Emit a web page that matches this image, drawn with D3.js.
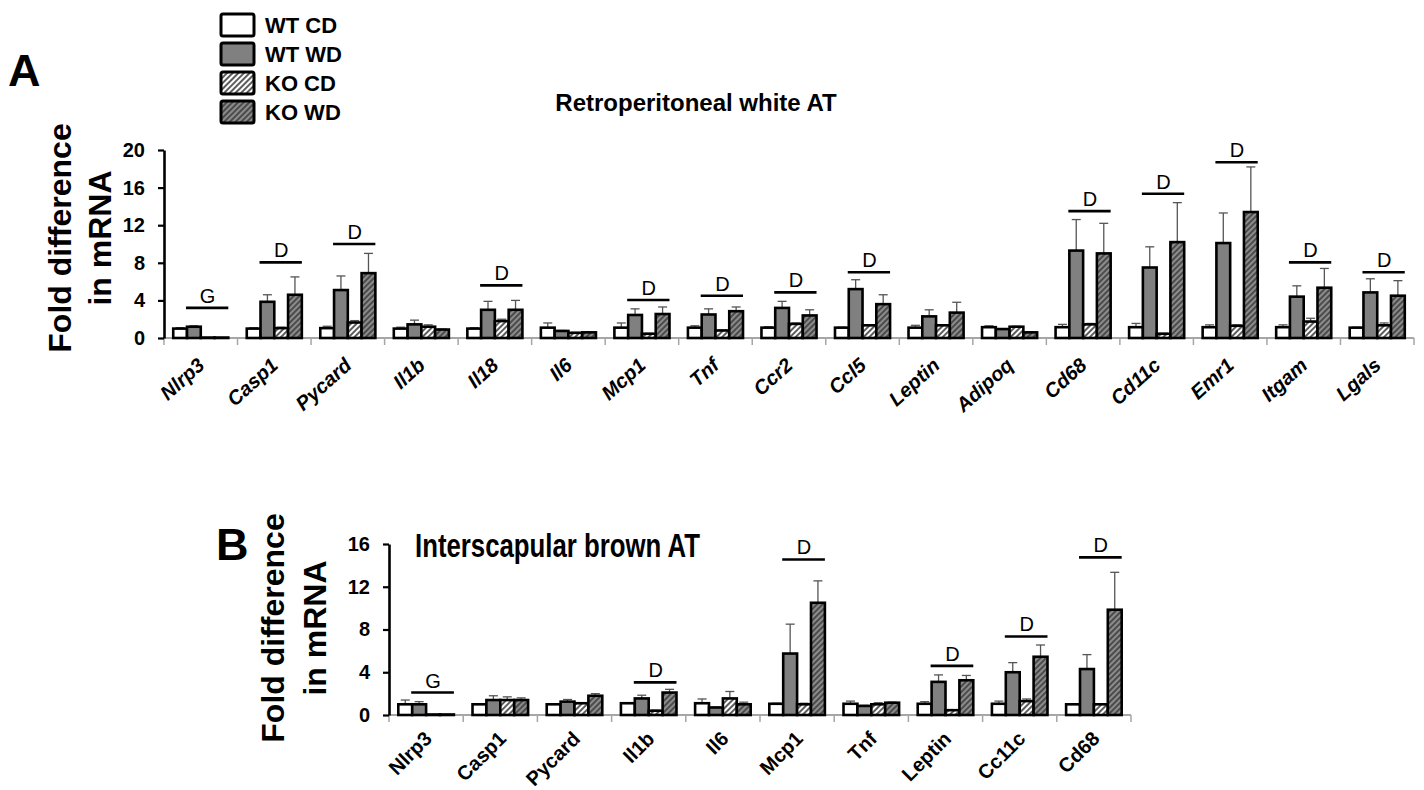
<!DOCTYPE html>
<html>
<head>
<meta charset="utf-8">
<script src="https://cdn.jsdelivr.net/npm/d3@7"></script>
<style>
  body { margin: 0; background: #fff; }
  text { font-family: "Liberation Sans", Arial, sans-serif; }
</style>
</head>
<body>
<div id="chart"></div>
<script>
var groups = ['WT CD', 'WT WD', 'KO CD', 'KO WD']

// panel A: retroperitoneal white AT
var genesA = ['Nlrp3','Casp1','Pycard','Il1b','Il18','Il6','Mcp1','Tnf','Ccr2','Ccl5','Leptin','Adipoq','Cd68','Cd11c','Emr1','Itgam','Lgals']
var wtcdA  = [1.0,1.0,1.05,1.0,1.0,1.1,1.1,1.1,1.1,1.1,1.1,1.15,1.15,1.15,1.15,1.15,1.1]
var wtcdAe = [0.1,0.1,0.2,0.15,0.1,0.5,0.5,0.2,0.1,0.05,0.25,0.15,0.3,0.4,0.25,0.25,0.05]
var wtwdA  = [1.2,3.85,5.1,1.45,3.0,0.75,2.45,2.5,3.2,5.2,2.3,0.95,9.3,7.5,10.1,4.4,4.85]
var wtwdAe = [0.1,0.75,1.5,0.45,0.9,0.05,0.65,0.6,0.7,1.0,0.7,0.05,3.3,2.2,3.2,1.15,1.45]
var kocdA  = [0.05,1.05,1.65,1.2,1.8,0.55,0.45,0.8,1.5,1.35,1.35,1.2,1.45,0.45,1.3,1.75,1.35]
var kocdAe = [0,0.1,0.2,0.2,0.2,0.05,0.05,0.05,0.1,0.05,0.05,0.05,0.1,0.05,0.1,0.35,0.25]
var kowdA  = [0.05,4.6,6.9,0.9,3.0,0.6,2.55,2.85,2.4,3.6,2.7,0.6,9.0,10.2,13.4,5.35,4.5]
var kowdAe = [0,1.9,2.1,0.05,1.0,0.05,0.75,0.45,0.6,1.0,1.1,0.05,3.2,4.2,4.8,2.05,1.6]
var sigA   = ['G','D','D','','D','','D','D','D','D','','','D','D','D','D','D']
var sigAy  = [3.2,8.05,10.0,0,5.6,0,4.05,4.5,4.85,7.0,0,0,13.5,15.35,18.7,8.05,7.0]
var ticksA = [0,4,8,12,16,20]

// panel B: interscapular brown AT
var genesB = ['Nlrp3','Casp1','Pycard','Il1b','Il6','Mcp1','Tnf','Leptin','Cc11c','Cd68']
var wtcdB  = [1.0,1.0,1.0,1.1,1.1,1.05,1.05,1.05,1.05,1.0]
var wtcdBe = [0.4,0.05,0.05,0.05,0.4,0.05,0.25,0.2,0.25,0.05]
var wtwdB  = [1.0,1.4,1.25,1.55,0.7,5.75,0.85,3.1,4.0,4.3]
var wtwdBe = [0.25,0.4,0.2,0.3,0.05,2.75,0.05,0.65,0.9,1.35]
var kocdB  = [0.05,1.4,1.1,0.4,1.55,1.0,1.0,0.45,1.3,1.0]
var kocdBe = [0,0.3,0.05,0.05,0.65,0.1,0.15,0.05,0.2,0.05]
var kowdB  = [0.05,1.4,1.8,2.1,1.0,10.5,1.15,3.25,5.45,9.85]
var kowdBe = [0,0.2,0.2,0.3,0.2,2.05,0.05,0.45,1.1,3.5]
var sigB   = ['G','','','D','','D','','D','D','D']
var sigBy  = [2.1,0,0,3.05,0,14.55,0,4.6,7.35,14.75]
var ticksB = [0,4,8,12,16]

var svg = d3.select('#chart').append('svg')
  .attr('width', 1424)
  .attr('height', 790)

svg.append('rect').attr('width', 1424).attr('height', 790).attr('fill', '#fff')

var defs = svg.append('defs')
function hatch(id, bg, ink) {
  var p = defs.append('pattern')
    .attr('id', id)
    .attr('patternUnits', 'userSpaceOnUse')
    .attr('width', 4).attr('height', 4)
    .attr('patternTransform', 'rotate(45)')
  p.append('rect').attr('width', 4).attr('height', 4).attr('fill', bg)
  p.append('line').attr('x1', 1).attr('y1', 0).attr('x2', 1).attr('y2', 4)
    .attr('stroke', ink).attr('stroke-width', 1.6)
}
hatch('kocd', '#fff', '#333')
hatch('kowd', '#8c8c8c', '#3a3a3a')

var fills = {'WT CD': '#fff', 'WT WD': '#808080', 'KO CD': 'url(#kocd)', 'KO WD': 'url(#kowd)'}

function panel(p) {
  var x = d3.scaleBand().domain(p.genes).range(p.xr)
  var xs = d3.scaleBand().domain(groups).range([0, x.bandwidth()]).paddingOuter(0.67)
  var y = d3.scaleLinear().domain(p.yd).range(p.yr)
  var g = svg.append('g')
  var y0 = y(0)

  var rows = []
  p.genes.forEach(function (gene, i) {
    groups.forEach(function (grp, j) {
      rows.push({gene: gene, grp: grp, v: p.vals[j][i], e: p.errs[j][i]})
    })
  })

  // x axis: gray line, ticks at category boundaries
  g.append('line')
    .attr('x1', p.xr[0]).attr('x2', p.xr[1])
    .attr('y1', y0).attr('y2', y0)
    .attr('stroke', '#a6a6a6').attr('stroke-width', 2)
  var edges = p.genes.map(function (d) { return x(d) }).concat([p.xr[1]])
  g.selectAll('.xt').data(edges).enter().append('line')
    .attr('x1', function (d) { return d }).attr('x2', function (d) { return d })
    .attr('y1', y0).attr('y2', y0 + 7)
    .attr('stroke', '#a6a6a6').attr('stroke-width', 1.5)

  // error bars (upper only)
  var eb = g.selectAll('.err').data(rows.filter(function (d) { return d.e > 0 })).enter().append('g')
  eb.append('line')
    .attr('x1', function (d) { return x(d.gene) + xs(d.grp) + xs.bandwidth() / 2 })
    .attr('x2', function (d) { return x(d.gene) + xs(d.grp) + xs.bandwidth() / 2 })
    .attr('y1', function (d) { return y(d.v) })
    .attr('y2', function (d) { return y(d.v + d.e) })
    .attr('stroke', '#555').attr('stroke-width', 1.3)
  eb.append('line')
    .attr('x1', function (d) { return x(d.gene) + xs(d.grp) + xs.bandwidth() / 2 - 4.5 })
    .attr('x2', function (d) { return x(d.gene) + xs(d.grp) + xs.bandwidth() / 2 + 4.5 })
    .attr('y1', function (d) { return y(d.v + d.e) })
    .attr('y2', function (d) { return y(d.v + d.e) })
    .attr('stroke', '#555').attr('stroke-width', 1.3)

  // bars
  g.selectAll('.bar').data(rows).enter().append('rect')
    .attr('x', function (d) { return x(d.gene) + xs(d.grp) })
    .attr('width', xs.bandwidth())
    .attr('y', function (d) { return y(d.v) })
    .attr('height', function (d) { return y0 - y(d.v) })
    .attr('fill', function (d) { return fills[d.grp] })
    .attr('stroke', '#000').attr('stroke-width', 2.6)

  // y axis
  var ax = g.append('g')
    .attr('transform', 'translate(' + p.xr[0] + ',0)')
    .call(d3.axisLeft(y).tickValues(p.ticks).tickSize(6).tickSizeOuter(0).tickPadding(13))
  ax.select('.domain').attr('stroke', '#000').attr('stroke-width', 2.6)
  ax.selectAll('.tick line').attr('stroke', '#000').attr('stroke-width', 2.2)
  ax.selectAll('.tick text')
    .attr('font-size', 20).attr('font-weight', 'bold').attr('fill', '#000')
    .attr('font-family', '"Liberation Sans", Arial, sans-serif')

  // significance lines
  var sg = g.selectAll('.sig').data(p.genes.filter(function (d, i) { return p.sig[i] })).enter().append('g')
  sg.append('line')
    .attr('x1', function (d) { return x(d) + xs('WT WD') - 1 })
    .attr('x2', function (d) { return x(d) + xs('KO WD') + xs.bandwidth() })
    .attr('y1', function (d) { return y(p.sigy[p.genes.indexOf(d)]) })
    .attr('y2', function (d) { return y(p.sigy[p.genes.indexOf(d)]) })
    .attr('stroke', '#000').attr('stroke-width', 2.6)
  sg.append('text')
    .attr('x', function (d) { return x(d) + (xs('WT WD') + xs('KO WD') + xs.bandwidth()) / 2 })
    .attr('y', function (d) { return y(p.sigy[p.genes.indexOf(d)]) - 5 })
    .attr('text-anchor', 'middle')
    .attr('font-size', 20)
    .text(function (d) { return p.sig[p.genes.indexOf(d)] })

  // category labels
  g.selectAll('.xl').data(p.genes).enter().append('text')
    .attr('transform', function (d) {
      return 'translate(' + (x(d) + x.bandwidth() / 2 + p.ldx) + ',' + (y0 + p.ldy) + ') rotate(' + p.rot + ')'
    })
    .attr('text-anchor', 'end')
    .attr('font-size', p.lfs)
    .attr('font-weight', 'bold')
    .attr('font-style', p.italic ? 'italic' : 'normal')
    .text(function (d) { return d })

  // y title
  g.append('text')
    .attr('transform', 'translate(' + p.yl[0] + ',' + p.yl[2] + ') rotate(-90)')
    .attr('text-anchor', 'middle').attr('font-size', 32).attr('font-weight', 'bold')
    .text('Fold difference')
  g.append('text')
    .attr('transform', 'translate(' + p.yl[1] + ',' + p.yl[2] + ') rotate(-90)')
    .attr('text-anchor', 'middle').attr('font-size', 32).attr('font-weight', 'bold')
    .text('in mRNA')
}

panel({
  genes: genesA,
  vals: [wtcdA, wtwdA, kocdA, kowdA],
  errs: [wtcdAe, wtwdAe, kocdAe, kowdAe],
  sig: sigA, sigy: sigAy, ticks: ticksA,
  xr: [164, 1414], yd: [0, 20], yr: [338, 150],
  ldx: 5, ldy: 29, rot: -42, italic: true, lfs: 20,
  yl: [71, 111, 238]
})

panel({
  genes: genesB,
  vals: [wtcdB, wtwdB, kocdB, kowdB],
  errs: [wtcdBe, wtwdBe, kocdBe, kowdBe],
  sig: sigB, sigy: sigBy, ticks: ticksB,
  xr: [389, 1131], yd: [0, 16], yr: [715, 544],
  ldx: 7, ldy: 25, rot: -45, italic: false, lfs: 20,
  yl: [284, 326, 628]
})

// panel letters and titles
svg.append('text').attr('x', 8).attr('y', 86).attr('font-size', 45).attr('font-weight', 'bold').text('A')
svg.append('text').attr('x', 216).attr('y', 560).attr('font-size', 45).attr('font-weight', 'bold').text('B')
svg.append('text').attr('x', 696).attr('y', 111).attr('text-anchor', 'middle')
  .attr('font-size', 24).attr('font-weight', 'bold').text('Retroperitoneal white AT')
svg.append('text').attr('x', 415).attr('y', 557)
  .attr('font-size', 34).attr('font-weight', 'bold')
  .attr('textLength', 285).attr('lengthAdjust', 'spacingAndGlyphs')
  .text('Interscapular brown AT')

// legend
var lg = svg.selectAll('.lg').data(groups).enter().append('g')
  .attr('transform', function (d, i) { return 'translate(221,' + (14 + i * 29) + ')' })
lg.append('rect')
  .attr('width', 33).attr('height', 22).attr('rx', 2)
  .attr('fill', function (d) { return fills[d] })
  .attr('stroke', '#000').attr('stroke-width', 3)
lg.append('text')
  .attr('x', 44).attr('y', 19)
  .attr('font-size', 22).attr('font-weight', 'bold')
  .text(function (d) { return d })
</script>
</body>
</html>
